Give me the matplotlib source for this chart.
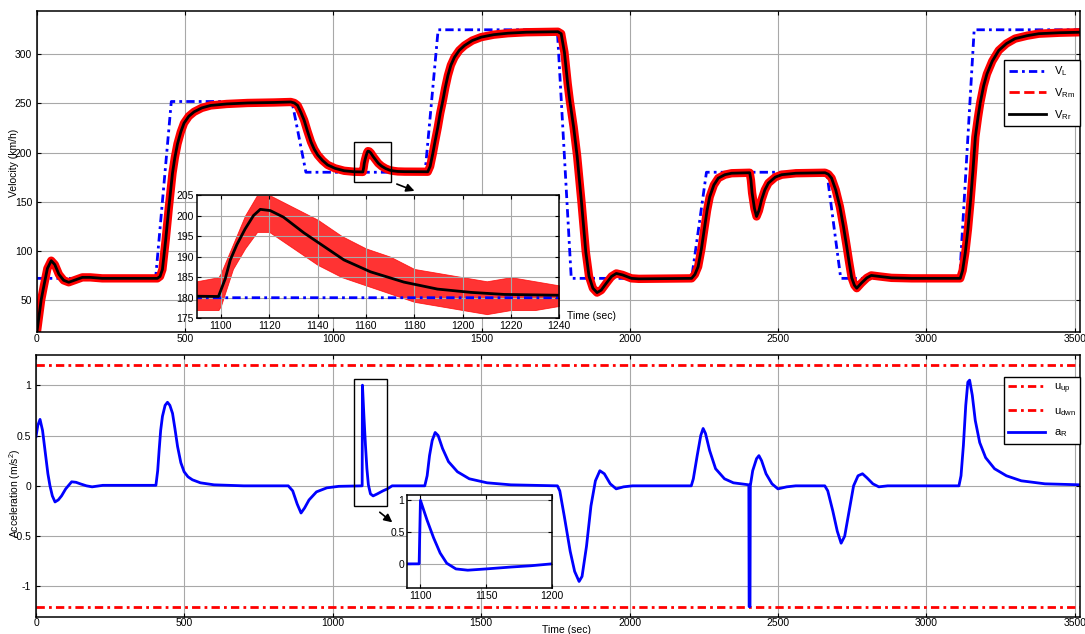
import numpy as np
import matplotlib
matplotlib.use("Agg")
import matplotlib.pyplot as plt
from matplotlib.patches import Rectangle
from matplotlib.lines import Line2D

plt.rcParams['font.family'] = ['Liberation Sans', 'DejaVu Sans']
plt.rcParams['mathtext.fontset'] = 'custom'
plt.rcParams['mathtext.rm'] = 'Liberation Sans'
plt.rcParams['mathtext.it'] = 'Liberation Sans:italic'
plt.rcParams['font.size'] = 7.5

# ---- data ----
# leader speed profile V_L
t_L = [0, 400, 453, 860, 907, 1309, 1353, 1755, 1802, 2208, 2258, 2664, 2711, 3112, 3161, 3520]
v_L = [72, 72, 252, 252, 180, 180, 325, 325, 72, 72, 180, 180, 72, 72, 325, 325]

# real speed of follower V_Rr
t_R = [0, 6, 14, 23, 35, 48, 60, 74, 90, 107, 125, 153, 180, 220, 406, 415, 423, 434, 445,
       457, 465, 474, 485, 496, 512, 530, 556, 586, 640, 710, 800, 856, 868, 879, 890, 901,
       912, 924, 935, 947, 963, 980, 1005, 1036, 1070, 1099, 1101.8, 1103.9, 1106.6, 1110,
       1113.5, 1116.3, 1120.4, 1125.9, 1134.3, 1142.6, 1150.9, 1161.9, 1175.7, 1189.6,
       1203.4, 1217.2, 1240, 1318, 1326, 1335, 1343, 1352, 1360, 1369, 1377, 1386, 1396,
       1408, 1424, 1442, 1468, 1498, 1540, 1588, 1650, 1757, 1768, 1779, 1790, 1797, 1810,
       1822, 1837, 1851, 1862, 1875, 1889, 1903, 1920, 1938, 1954, 1975, 2005, 2030, 2208,
       2219, 2230, 2241, 2252, 2260, 2269, 2283, 2298, 2320, 2343, 2404, 2408, 2412, 2420,
       2427, 2435, 2444, 2455, 2467, 2490, 2512, 2560, 2658, 2669, 2680, 2694, 2708, 2720,
       2731, 2740, 2748, 2757, 2765, 2780, 2799, 2814, 2840, 2882, 2950, 3114, 3122, 3131,
       3140, 3148, 3157, 3165, 3174, 3182, 3193, 3204, 3222, 3244, 3270, 3299, 3340, 3379,
       3450, 3520]
v_R = [18, 32, 50, 64, 82, 90, 86, 76, 70, 68, 70, 73, 73, 72, 72, 74, 81, 111, 145,
       179, 195, 209, 221, 230, 237, 241.5, 245.5, 248, 249.5, 250.5, 251, 251.5, 250.5, 248,
       241, 233, 222, 211, 203.5, 197.5, 192, 187.5, 184, 181.5, 180.5, 180.3, 184.6, 189.2,
       192.9, 196.7, 200, 201.5, 201.2, 199.6, 195.8, 192.5, 189.2, 186.3, 183.8, 182.1,
       181.3, 180.8, 180.6, 180.5, 186, 199, 212, 226, 240, 253, 266, 278.5, 289, 297, 304,
       309, 314, 317.5, 320, 321.5, 322.5, 323, 321, 302, 270, 253, 226, 196, 148, 99, 74,
       62, 57.5, 60, 67, 74, 77, 75.5, 72, 71.5, 72, 76, 84, 102, 125, 141, 155, 167, 174,
       177.5, 179, 179.5, 172, 159, 143, 135, 141, 152, 162, 169, 175, 177.5, 179, 179.5,
       178, 174, 162, 145, 125, 104.5, 87, 72.5, 65, 62, 67, 72.5, 75, 74, 72.5, 72, 72, 80,
       98, 122, 148.5, 182, 216, 236, 251.5, 268, 280, 293, 304, 311, 316, 319, 321, 322,
       322.5]

# measured speed V_Rm, noise band seen in the zoomed window
t_env = [1090, 1099, 1100, 1105, 1110, 1115, 1120, 1130, 1140, 1150, 1160, 1170, 1180,
         1190, 1200, 1210, 1220, 1230, 1240]
v_env_lo = [177, 177, 178, 187, 192, 196, 196, 192, 188, 185, 183, 181, 179, 178, 177,
            176, 177, 177, 178]
v_env_hi = [184, 185, 186, 193, 200, 205, 205, 202, 199, 195, 192, 190, 187, 186, 185,
            184, 185, 184, 183]

# acceleration a_R
t_a = [0, 6, 13.5, 22, 30, 40, 47, 55, 64, 75, 86, 100, 120, 135, 149, 170, 189, 225, 300,
       404, 410, 415, 420, 426, 435, 443, 451, 460, 468, 477, 488, 499, 512, 527, 554, 600,
       700, 850, 865, 880, 893, 905, 920, 945, 980, 1020, 1099, 1100, 1105, 1110, 1115,
       1120, 1127, 1136, 1150, 1169, 1184, 1200, 1310, 1318, 1326, 1335, 1345, 1355, 1370,
       1390, 1420, 1460, 1520, 1600, 1757, 1765, 1780, 1800, 1815, 1830, 1840, 1855, 1870,
       1885, 1900, 1915, 1935, 1955, 1980, 2010, 2208, 2215, 2228, 2240, 2248, 2256, 2270,
       2290, 2320, 2350, 2402, 2403, 2406, 2407, 2415, 2428, 2436, 2445, 2460, 2480, 2500,
       2530, 2560, 2658, 2668, 2685, 2700, 2713, 2725, 2740, 2755, 2770, 2785, 2800, 2820,
       2840, 2870, 3110, 3117, 3125, 3133, 3140, 3146, 3155, 3165, 3180, 3200, 3230, 3270,
       3320, 3400, 3520]
a_R = [0.49, 0.6, 0.66, 0.55, 0.36, 0.12, 0.0, -0.1, -0.16, -0.14, -0.1, -0.03, 0.04,
       0.035, 0.02, 0.0, -0.01, 0.005, 0.005, 0.005, 0.15, 0.36, 0.55, 0.69, 0.8, 0.83, 0.8,
       0.72, 0.57, 0.39, 0.23, 0.14, 0.09, 0.06, 0.03, 0.01, 0.0, 0.0, -0.05, -0.18, -0.27,
       -0.22, -0.14, -0.06, -0.02, -0.005, 0.0, 1.0, 0.69, 0.41, 0.17, 0.01, -0.08, -0.1,
       -0.08, -0.05, -0.03, 0.0, 0.0, 0.1, 0.3, 0.45, 0.53, 0.5, 0.37, 0.24, 0.14, 0.07,
       0.03, 0.01, 0.0, -0.05, -0.3, -0.65, -0.85, -0.95, -0.9, -0.6, -0.2, 0.05, 0.15,
       0.12, 0.02, -0.03, -0.01, 0.0, 0.0, 0.07, 0.3, 0.5, 0.57, 0.52, 0.35, 0.17, 0.07,
       0.03, 0.01, -1.2, -1.2, 0.0, 0.15, 0.27, 0.3, 0.25, 0.12, 0.02, -0.03, -0.01, 0.0,
       0.0, -0.05, -0.25, -0.45, -0.57, -0.5, -0.25, 0.0, 0.1, 0.12, 0.08, 0.02, -0.01,
       0.0, 0.0, 0.1, 0.4, 0.8, 1.03, 1.05, 0.9, 0.65, 0.43, 0.28, 0.17, 0.1, 0.05, 0.02,
       0.01]
u_up = 1.2
u_dwn = -1.2

# zoom windows: (t0, t1, y0, y1)
box_v = (1070, 1193, 170, 211)
box_a = (1073, 1184, -0.2, 1.06)

blue = '#0000ff'
red = '#ff0000'
dd = (3, 1.5, 1, 1.5)


def style(ax):
    ax.grid(True, color='#a8a8a8', lw=0.8)
    ax.tick_params(direction='in', top=True, right=True, length=3, width=0.8)
    for s in ax.spines.values():
        s.set_linewidth(1.1)


fig = plt.figure(figsize=(10.85, 6.34), dpi=100)

# ---------- velocity ----------
ax1 = fig.add_axes([0.0341, 0.4768, 0.9613, 0.5063])
ax1.plot(t_L, v_L, color=blue, lw=2, dashes=dd)
ax1.plot(t_R, v_R, color=red, lw=6, solid_joinstyle='round')
ax1.plot(t_R, v_R, color='k', lw=2)
ax1.set_xlim(0, 3518)
ax1.set_ylim(17.7, 344.4)
ax1.set_xticks(np.arange(0, 3501, 500))
ax1.set_yticks(np.arange(50, 301, 50))
style(ax1)
ax1.tick_params(axis='x', pad=2)
ax1.set_ylabel('Velocity (km/h)')
ax1.yaxis.set_label_coords(-0.017, 0.526)
ax1.add_patch(Rectangle((box_v[0], box_v[2]), box_v[1] - box_v[0], box_v[3] - box_v[2],
                        fill=False, ec='k', lw=1, zorder=5))
ax1.annotate('', xy=(1282, 160), xytext=(1205, 169),
             arrowprops=dict(arrowstyle='-|>', color='k', lw=1.2, mutation_scale=12))
h1 = [Line2D([], [], color=blue, lw=2, dashes=dd),
      Line2D([], [], color=red, lw=2, ls='--'),
      Line2D([], [], color='k', lw=2)]
leg1 = ax1.legend(h1, [r'$\mathrm{V_L}$', r'$\mathrm{V_{Rm}}$', r'$\mathrm{V_{Rr}}$'],
                  loc='upper right', bbox_to_anchor=(1.0, 0.846), borderaxespad=0,
                  fancybox=False, edgecolor='k', framealpha=1, fontsize=8,
                  handlelength=3.3, labelspacing=0.7)
leg1.get_frame().set_linewidth(1)

# inset velocity
ax1i = fig.add_axes([0.1813, 0.498, 0.3342, 0.1945])
ax1i.plot(t_L, v_L, color=blue, lw=2, dashes=dd)
ax1i.fill_between(t_env, v_env_lo, v_env_hi, color=red, lw=0.6, alpha=0.8)
ax1i.plot(t_R, v_R, color='k', lw=2)
ax1i.set_xlim(1090, 1240)
ax1i.set_ylim(175, 205)
ax1i.set_xticks(np.arange(1100, 1241, 20))
ax1i.set_yticks(np.arange(175, 206, 5))
style(ax1i)
ax1i.tick_params(pad=2)

# x label of the top panel sits inside the plot, right of the inset
fig.text(0.545, 0.501, 'Time (sec)', ha='center', va='center', fontsize=7.5)

# ---------- acceleration ----------
ax2 = fig.add_axes([0.0332, 0.0273, 0.9622, 0.4128])
ax2.axhline(u_up, color=red, lw=2, dashes=dd)
ax2.axhline(u_dwn, color=red, lw=2, dashes=dd)
ax2.plot(t_a, a_R, color=blue, lw=2)
ax2.set_xlim(0, 3518)
ax2.set_ylim(-1.3, 1.3)
ax2.set_xticks(np.arange(0, 3501, 500))
ax2.set_yticks([-1, -0.5, 0, 0.5, 1])
ax2.set_yticklabels(['-1', '-0.5', '0', '0.5', '1'])
style(ax2)
ax2.tick_params(axis='x', pad=1)
ax2.set_ylabel('Acceleration (m/s$^2$)')
ax2.yaxis.set_label_coords(-0.0125, 0.473)
ax2.set_xlabel('Time (sec)')
ax2.xaxis.set_label_coords(0.508, -0.032)
ax2.add_patch(Rectangle((box_a[0], box_a[2]), box_a[1] - box_a[0], box_a[3] - box_a[2],
                        fill=False, ec='k', lw=1, zorder=5))
ax2.annotate('', xy=(1208, -0.38), xytext=(1151, -0.245),
             arrowprops=dict(arrowstyle='-|>', color='k', lw=1.2, mutation_scale=12))
h2 = [Line2D([], [], color=red, lw=2, dashes=dd),
      Line2D([], [], color=red, lw=2, dashes=dd),
      Line2D([], [], color=blue, lw=2)]
leg2 = ax2.legend(h2, [r'$\mathrm{u_{up}}$', r'$\mathrm{u_{dwn}}$', r'$\mathrm{a_R}$'],
                  loc='upper right', bbox_to_anchor=(1.0, 0.916), borderaxespad=0,
                  fancybox=False, edgecolor='k', framealpha=1, fontsize=8,
                  handlelength=3.3, labelspacing=0.9)
leg2.get_frame().set_linewidth(1)

# inset acceleration
ax2i = fig.add_axes([0.3754, 0.0726, 0.1332, 0.1472])
ax2i.plot(t_a, a_R, color=blue, lw=2)
ax2i.set_xlim(1090, 1200)
ax2i.set_ylim(-0.38, 1.09)
ax2i.set_xticks([1100, 1150, 1200])
ax2i.set_yticks([0, 0.5, 1])
ax2i.set_yticklabels(['0', '0.5', '1'])
style(ax2i)
ax2i.tick_params(pad=2)

fig.savefig('out.png', dpi=100)
